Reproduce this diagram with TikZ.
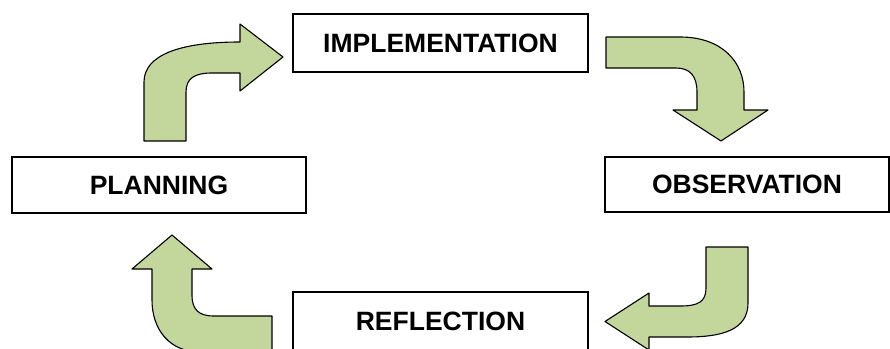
\documentclass[tikz,border=0pt]{standalone}
\usepackage{fontspec}
\setmainfont{Liberation Sans}
\usepackage{tikz}
\definecolor{leaf}{RGB}{195,214,155}

\begin{document}
\begin{tikzpicture}[x=1pt,y=-1pt,stage node/.style={rectangle,draw,line width=1.8pt,fill=white,font=\bfseries\fontsize{26.5}{31}\selectfont,inner sep=0pt},bent arrow/.style={fill=leaf,draw=black,line width=1.1pt,line join=round}]
		
		\useasboundingbox (0,0) rectangle (890,348);
		\clip (0,0) rectangle (890,348);
		
		\node[stage node, minimum width=295pt, minimum height=58pt] (impl) at (440.5,43) {IMPLEMENTATION};
		\node[stage node, minimum width=294pt, minimum height=56pt] (plan) at (159,185) {PLANNING};
		\node[stage node, minimum width=284pt, minimum height=55pt] (obs) at (747,184.5) {OBSERVATION};
		\node[stage node, minimum width=295pt, minimum height=58pt] (refl) at (440.5,321) {REFLECTION};
		
		\path[bent arrow] (144,141) -- (144,82) .. controls (144,55) and (180,42) .. (240,42) -- (240,24) -- (283,57) -- (240,91) -- (240,73) -- (212,73) .. controls (195,73) and (186,78) .. (186,92) -- (186,141) -- cycle;
		\path[bent arrow] (606,37) -- (680,37) .. controls (722,37) and (744,62) .. (744,92) -- (744,110) -- (768,110) -- (721,141) -- (673,110) -- (697,110) -- (697,92) .. controls (697,76) and (690,68) .. (676,68) -- (606,68) -- cycle;
		\path[bent arrow] (706,247) -- (748,247) -- (748,303) .. controls (748,330) and (722,337) .. (687,337) -- (649,337) -- (649,350) -- (605,321.5) -- (649,293) -- (649,306) -- (680,306) .. controls (698,306) and (706,302) .. (706,288) -- cycle;
		\path[bent arrow] (152,269) -- (132,269) -- (172,235) -- (212,269) -- (192,269) -- (192,295) .. controls (192,310) and (199,316) .. (214,316) -- (272,316) -- (272,352) -- (200,352) .. controls (170,352) and (152,330) .. (152,300) -- cycle;
		
		\end{tikzpicture}
\end{document}
